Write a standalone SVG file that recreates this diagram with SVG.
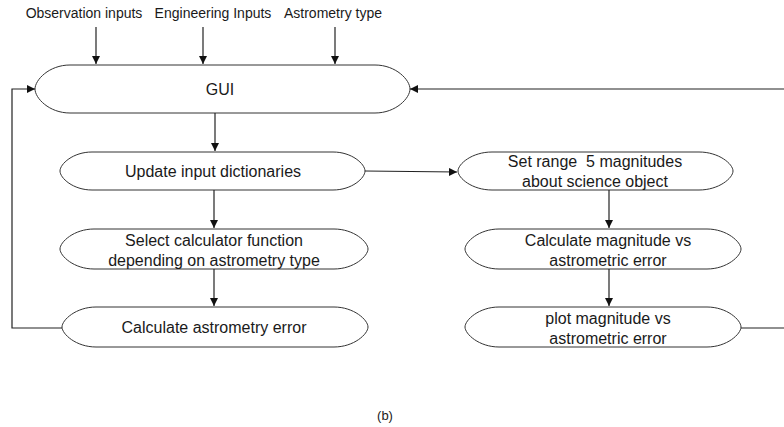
<svg xmlns="http://www.w3.org/2000/svg" width="784" height="427" viewBox="0 0 784 427">
<defs>
<marker id="ah" viewBox="0 0 10 10" refX="10" refY="5" markerWidth="8" markerHeight="8" markerUnits="userSpaceOnUse" orient="auto">
<path d="M0,0 L10,5 L0,10 z" fill="#111"/>
</marker>
<style>
.n{fill:#fff;stroke:#333;stroke-width:1}
.t{font-family:"Liberation Sans",Arial,sans-serif;font-size:16px;fill:#1a1a1a;text-anchor:middle}
.s{font-family:"Liberation Sans",Arial,sans-serif;font-size:14px;fill:#1a1a1a;text-anchor:middle}
.c{fill:none;stroke:#222;stroke-width:1.2}
</style>
</defs>
<rect width="784" height="427" fill="#fff"/>
<g id="labels">
<text class="s" x="84" y="18">Observation inputs</text>
<text class="s" x="213" y="18">Engineering Inputs</text>
<text class="s" x="333" y="18">Astrometry type</text>
<text class="s" x="385" y="420" style="font-size:13px">(b)</text>
</g>
<g id="gui">
<path class="n" d="M70,65 L375,65 C396,65 410,80 410,89 C410,98 396,113 375,113 L70,113 C49,113 35,98 35,89 C35,80 49,65 70,65 Z"/>
<text class="t" x="220" y="95">GUI</text>
</g>
<g id="update">
<path class="n" d="M92,152 L333,152 C352,152 365,164 365,171 C365,178 352,190 333,190 L92,190 C73,190 60,178 60,171 C60,164 73,152 92,152 Z"/>
<text class="t" x="213" y="177">Update input dictionaries</text>
</g>
<g id="select">
<path class="n" d="M94,229 L334,229 C354,229 368,242 368,249 C368,256 354,269 334,269 L94,269 C74,269 60,256 60,249 C60,242 74,229 94,229 Z"/>
<text class="t" x="214" y="246">Select calculator function</text>
<text class="t" x="214" y="266">depending on astrometry type</text>
</g>
<g id="calcerr">
<path class="n" d="M96,307 L334,307 C354,307 368,320 368,327 C368,334 354,347 334,347 L96,347 C76,347 62,334 62,327 C62,320 76,307 96,307 Z"/>
<text class="t" x="214" y="333">Calculate astrometry error</text>
</g>
<g id="setrange">
<path class="n" d="M492,152 L699,152 C719,152 733,164 733,171 C733,178 719,190 699,190 L492,190 C472,190 458,178 458,171 C458,164 472,152 492,152 Z"/>
<text class="t" x="595" y="167" xml:space="preserve">Set range  5 magnitudes</text>
<text class="t" x="595" y="187">about science object</text>
</g>
<g id="calcmag">
<path class="n" d="M499,229 L707,229 C727,229 741,242 741,249 C741,256 727,269 707,269 L499,269 C479,269 465,256 465,249 C465,242 479,229 499,229 Z"/>
<text class="t" x="608" y="246">Calculate magnitude vs</text>
<text class="t" x="608" y="266">astrometric error</text>
</g>
<g id="plot">
<path class="n" d="M499,307 L707,307 C727,307 741,320 741,327 C741,334 727,347 707,347 L499,347 C479,347 465,334 465,327 C465,320 479,307 499,307 Z"/>
<text class="t" x="608" y="324">plot magnitude vs</text>
<text class="t" x="608" y="344">astrometric error</text>
</g>
<g id="connectors">
<line class="c" x1="96" y1="27" x2="96" y2="64" marker-end="url(#ah)"/>
<line class="c" x1="203" y1="27" x2="203" y2="64" marker-end="url(#ah)"/>
<line class="c" x1="335" y1="27" x2="335" y2="64" marker-end="url(#ah)"/>
<line class="c" x1="215" y1="113" x2="215" y2="151" marker-end="url(#ah)"/>
<line class="c" x1="214" y1="190" x2="214" y2="228" marker-end="url(#ah)"/>
<line class="c" x1="214" y1="269" x2="214" y2="306" marker-end="url(#ah)"/>
<path class="c" d="M62,328 L12,328 L12,89 L35,89" marker-end="url(#ah)"/>
<path class="c" d="M365,171 L457,172" marker-end="url(#ah)"/>
<line class="c" x1="609" y1="190" x2="609" y2="228" marker-end="url(#ah)"/>
<line class="c" x1="609" y1="269" x2="609" y2="306" marker-end="url(#ah)"/>
<path class="c" d="M741,328 L790,328 L790,89 L410,89" marker-end="url(#ah)"/>
</g>
</svg>
